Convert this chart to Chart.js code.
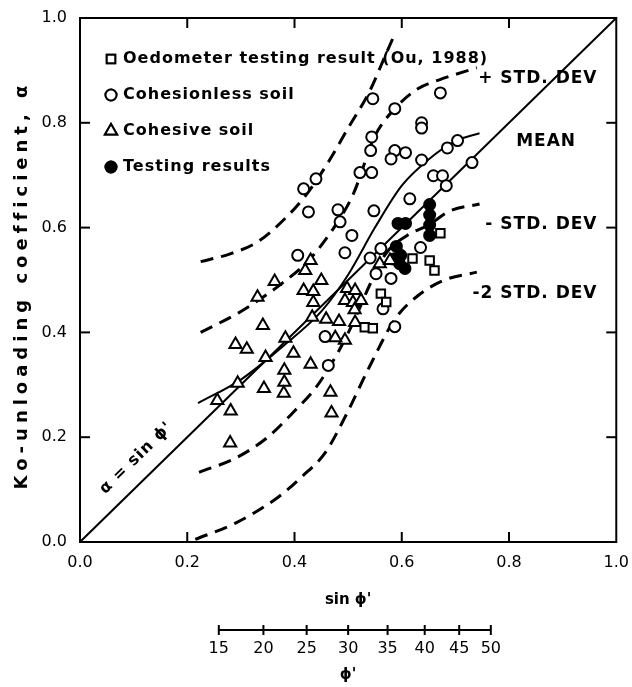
<!DOCTYPE html>
<html>
<head>
<meta charset="utf-8">
<script src="https://cdn.jsdelivr.net/npm/chart.js@4.4.1/dist/chart.umd.min.js"></script>
<style>
  html, body { margin: 0; padding: 0; background: #fff; }
</style>
</head>
<body>
<canvas id="koChart" width="632" height="687"></canvas>
<script>
// Data (x = sin phi', y = alpha)
const oedometerX = [0.561, 0.531, 0.546, 0.672, 0.620, 0.652, 0.661, 0.571];
const oedometerY = [0.474, 0.410, 0.408, 0.589, 0.541, 0.537, 0.518, 0.458];

const cohesionlessX = [0.546, 0.587, 0.672, 0.637, 0.637, 0.544, 0.542, 0.522, 0.544, 0.587, 0.607, 0.580, 0.637,
    0.659, 0.676, 0.685, 0.704, 0.731, 0.683, 0.417, 0.440, 0.426, 0.481, 0.485, 0.548, 0.615, 0.507, 0.494,
    0.561, 0.406, 0.541, 0.552, 0.580, 0.565, 0.587, 0.457, 0.463, 0.635];
const cohesionlessY = [0.846, 0.827, 0.857, 0.800, 0.790, 0.773, 0.747, 0.705, 0.705, 0.747, 0.743, 0.731, 0.729,
    0.699, 0.699, 0.752, 0.766, 0.724, 0.680, 0.674, 0.693, 0.630, 0.634, 0.611, 0.632, 0.655, 0.585, 0.552,
    0.560, 0.547, 0.542, 0.512, 0.503, 0.445, 0.411, 0.392, 0.337, 0.562];

const cohesiveX = [0.430, 0.420, 0.363, 0.331, 0.417, 0.435, 0.450, 0.435, 0.341, 0.290, 0.311, 0.383, 0.398,
    0.346, 0.294, 0.256, 0.281, 0.381, 0.381, 0.380, 0.343, 0.430, 0.467, 0.469, 0.433, 0.459, 0.483, 0.498,
    0.513, 0.494, 0.509, 0.524, 0.494, 0.476, 0.559, 0.578, 0.280, 0.512, 0.513];
const cohesiveY = [0.537, 0.518, 0.497, 0.467, 0.480, 0.478, 0.499, 0.457, 0.413, 0.377, 0.368, 0.389, 0.360,
    0.352, 0.303, 0.270, 0.250, 0.328, 0.305, 0.284, 0.293, 0.339, 0.286, 0.246, 0.429, 0.425, 0.421, 0.484,
    0.480, 0.461, 0.457, 0.461, 0.385, 0.390, 0.531, 0.537, 0.189, 0.443, 0.419];

const testingX = [0.593, 0.607, 0.652, 0.652, 0.652, 0.652, 0.590, 0.598, 0.596, 0.606, 0.585];
const testingY = [0.608, 0.608, 0.644, 0.624, 0.605, 0.585, 0.564, 0.547, 0.531, 0.522, 0.540];

// Curves
const lineX = [0, 1];
const lineY = [0, 1];
const meanX = [0.22, 0.30, 0.38, 0.45, 0.50, 0.55, 0.60, 0.65, 0.70, 0.745];
const meanY = [0.265, 0.31, 0.375, 0.44, 0.51, 0.60, 0.68, 0.73, 0.765, 0.78];
const plus2X = [0.225, 0.28, 0.33, 0.38, 0.42, 0.46, 0.50, 0.54, 0.57, 0.585];
const plus2Y = [0.535, 0.55, 0.572, 0.615, 0.66, 0.72, 0.79, 0.86, 0.93, 0.965];
const plusX = [0.225, 0.30, 0.376, 0.426, 0.48, 0.51, 0.55, 0.59, 0.63, 0.67, 0.74];
const plusY = [0.40, 0.44, 0.493, 0.537, 0.61, 0.665, 0.775, 0.83, 0.865, 0.882, 0.905];
const minusX = [0.222, 0.29, 0.35, 0.40, 0.44, 0.48, 0.51, 0.54, 0.57, 0.61, 0.65, 0.69, 0.745];
const minusY = [0.133, 0.16, 0.20, 0.25, 0.295, 0.36, 0.42, 0.49, 0.55, 0.585, 0.605, 0.632, 0.645];
const minus2X = [0.215, 0.29, 0.37, 0.413, 0.457, 0.494, 0.54, 0.587, 0.63, 0.68, 0.74];
const minus2Y = [0.005, 0.036, 0.086, 0.124, 0.17, 0.238, 0.335, 0.425, 0.47, 0.50, 0.515];

// Axis ticks
const sinTicks = [0.0, 0.2, 0.4, 0.6, 0.8, 1.0];
const alphaTicks = [0.0, 0.2, 0.4, 0.6, 0.8, 1.0];
const phiTicks = [15, 20, 25, 30, 35, 40, 45, 50];

// Curve labels (right aligned)
const curveLabels = ['+ STD. DEV', 'MEAN', '- STD. DEV', '-2 STD. DEV'];
const curveLabelX = [0.965, 0.925, 0.965, 0.965];
const curveLabelY = [0.885, 0.765, 0.605, 0.475];

const pts = (xs, ys) => xs.map((x, i) => ({ x: x, y: ys[i] }));
const rad = d => d * Math.PI / 180;

const boldFont = { family: 'DejaVu Sans', size: 15, weight: 'bold' };
const tickFont = { family: 'DejaVu Sans', size: 16 };

function curve(label, xs, ys, dashed) {
    return {
        label: label,
        data: pts(xs, ys),
        showLine: true,
        borderColor: '#000',
        borderWidth: dashed ? 3 : 2,
        borderDash: dashed ? [13, 8] : [],
        pointRadius: 0,
        cubicInterpolationMode: 'monotone',
        fill: false
    };
}

function marker(label, xs, ys, style, filled, r) {
    return {
        label: label,
        data: pts(xs, ys),
        pointStyle: style,
        pointRadius: r,
        pointBorderWidth: 2,
        borderColor: '#000',
        backgroundColor: filled ? '#000' : '#fff',
        pointBackgroundColor: filled ? '#000' : '#fff',
        pointBorderColor: '#000'
    };
}

// frame, inward ticks, phi' scale line, legend and text labels
const decorations = {
    id: 'decorations',
    afterDraw(chart) {
        const { ctx, chartArea: a, scales } = chart;
        const x = scales.x, y = scales.y, phi = scales.phi;
        ctx.save();
        ctx.strokeStyle = '#000';
        ctx.fillStyle = '#000';
        ctx.lineWidth = 2;
        ctx.strokeRect(a.left, a.top, a.right - a.left, a.bottom - a.top);

        const seg = (x1, y1, x2, y2) => {
            ctx.beginPath();
            ctx.moveTo(x1, y1);
            ctx.lineTo(x2, y2);
            ctx.stroke();
        };
        sinTicks.slice(1, -1).forEach(v => {
            const px = x.getPixelForValue(v);
            seg(px, a.bottom, px, a.bottom - 10);
            seg(px, a.top, px, a.top + 10);
        });
        alphaTicks.slice(1, -1).forEach(v => {
            const py = y.getPixelForValue(v);
            seg(a.left, py, a.left + 10, py);
            seg(a.right, py, a.right - 10, py);
        });

        // phi' scale
        const ly = phi.top + 13;
        seg(phi.getPixelForValue(Math.sin(rad(phiTicks[0]))), ly,
            phi.getPixelForValue(Math.sin(rad(phiTicks[phiTicks.length - 1]))), ly);
        phiTicks.forEach(d => {
            const px = phi.getPixelForValue(Math.sin(rad(d)));
            seg(px, ly - 5, px, ly + 5);
        });

        // legend, top left inside the frame
        ctx.font = 'bold 16px "DejaVu Sans"';
        ctx.letterSpacing = '1px';
        ctx.textAlign = 'left';
        ctx.textBaseline = 'middle';
        chart.data.datasets.slice(0, 4).forEach((ds, i) => {
            const ry = a.top + 41 + i * 36;
            ctx.fillStyle = ds.pointBackgroundColor;
            Chart.helpers.drawPoint(ctx, { pointStyle: ds.pointStyle, radius: ds.pointRadius, borderWidth: 2, rotation: 0 }, a.left + 31, ry);
            ctx.fill();
            ctx.stroke();
            ctx.fillStyle = '#000';
            ctx.fillText(ds.label, a.left + 43, ry);
        });

        // curve labels
        ctx.font = 'bold 17px "DejaVu Sans"';
        ctx.textAlign = 'right';
        curveLabels.forEach((t, i) => {
            ctx.fillText(t, x.getPixelForValue(curveLabelX[i]), y.getPixelForValue(curveLabelY[i]));
        });

        // y axis title, spaced out as in the print
        ctx.save();
        ctx.font = 'bold 18px "DejaVu Sans"';
        ctx.letterSpacing = '5px';
        ctx.textAlign = 'center';
        ctx.translate(22, (a.top + a.bottom) / 2 + 5);
        ctx.rotate(-Math.PI / 2);
        ctx.fillText('Ko-unloading coefficient, α', 0, 0);
        ctx.restore();

        // alpha = sin phi' along the diagonal
        const tx = x.getPixelForValue(0.105), ty = y.getPixelForValue(0.16);
        const ang = Math.atan2(y.getPixelForValue(1) - y.getPixelForValue(0), x.getPixelForValue(1) - x.getPixelForValue(0));
        ctx.letterSpacing = '1px';
        ctx.textAlign = 'center';
        ctx.translate(tx, ty);
        ctx.rotate(ang);
        ctx.font = 'bold 16px "DejaVu Sans"';
        ctx.fillText("α = sin ϕ'", 0, 0);
        ctx.restore();
    }
};

const ctx = document.getElementById('koChart').getContext('2d');
const koChart = new Chart(ctx, {
    type: 'scatter',
    data: {
        datasets: [
            marker('Oedometer testing result (Ou, 1988)', oedometerX, oedometerY, 'rect', false, 6),
            marker('Cohesionless soil', cohesionlessX, cohesionlessY, 'circle', false, 5.5),
            marker('Cohesive soil', cohesiveX, cohesiveY, 'triangle', false, 7),
            marker('Testing results', testingX, testingY, 'circle', true, 5.5),
            curve('sin', lineX, lineY, false),
            curve('mean', meanX, meanY, false),
            curve('+2std', plus2X, plus2Y, true),
            curve('+std', plusX, plusY, true),
            curve('-std', minusX, minusY, true),
            curve('-2std', minus2X, minus2Y, true)
        ]
    },
    options: {
        responsive: false,
        animation: false,
        layout: { padding: { top: 18, right: 0, left: 0, bottom: 0 } },
        scales: {
            x: {
                type: 'linear',
                min: 0,
                max: 1,
                weight: 0,
                afterFit: s => { s.height = 75; },
                afterBuildTicks: s => { s.ticks = sinTicks.map(v => ({ value: v })); },
                grid: { display: false },
                border: { display: false },
                ticks: {
                    color: '#000',
                    font: tickFont,
                    padding: 3,
                    maxRotation: 0,
                    callback: v => v.toFixed(1)
                },
                title: { display: true, text: "sin ϕ'", color: '#000', font: boldFont, padding: { top: 0, bottom: 8 } }
            },
            phi: {
                type: 'linear',
                position: 'bottom',
                min: 0,
                max: 1,
                weight: 1,
                afterFit: s => { s.height = 70; },
                afterBuildTicks: s => { s.ticks = phiTicks.map(d => ({ value: Math.sin(rad(d)) })); },
                grid: { display: false },
                border: { display: false },
                ticks: {
                    color: '#000',
                    font: tickFont,
                    padding: 14,
                    autoSkip: false,
                    maxRotation: 0,
                    callback: (v, i) => String(phiTicks[i])
                },
                title: { display: true, text: "ϕ'", color: '#000', font: boldFont, padding: { top: 0, bottom: 3 } }
            },
            y: {
                type: 'linear',
                min: 0,
                max: 1,
                afterFit: s => { s.width = 80; },
                afterBuildTicks: s => { s.ticks = alphaTicks.map(v => ({ value: v })); },
                grid: { display: false },
                border: { display: false },
                ticks: {
                    color: '#000',
                    font: tickFont,
                    padding: 5,
                    callback: v => v.toFixed(1)
                },
                title: { display: false, text: 'Ko-unloading coefficient, α' }
            }
        },
        plugins: {
            legend: { display: false },
            tooltip: { enabled: false }
        }
    },
    plugins: [decorations]
});
</script>
</body>
</html>
